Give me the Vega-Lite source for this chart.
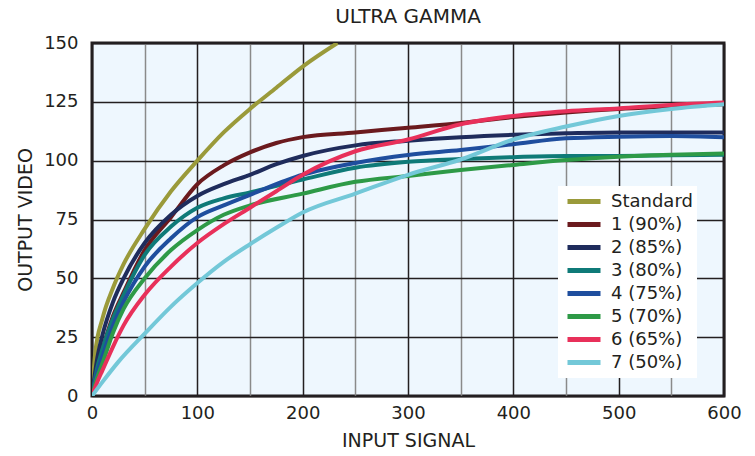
{
  "$schema": "https://vega.github.io/schema/vega-lite/v6.json",
  "width": 632,
  "height": 353,
  "autosize": {"type": "none"},
  "padding": {"left": 92, "top": 43, "right": 31, "bottom": 60},
  "background": "white",
  "title": {"text": "ULTRA GAMMA", "fontSize": 20, "fontWeight": "normal", "font": "DejaVu Sans", "color": "#231f20", "offset": 7},
  "config": {
    "font": "DejaVu Sans",
    "view": {"fill": "#eef7fe", "stroke": "#231f20", "strokeWidth": 3},
    "axis": {"labelFont": "DejaVu Sans", "titleFont": "DejaVu Sans", "labelFontSize": 18, "titleFontSize": 19, "titleFontWeight": "normal", "labelColor": "#231f20", "titleColor": "#231f20", "domain": false, "ticks": false, "labelFlush": false}
  },
  "data": {"values": [
    {"s":"Standard","x":0,"y":0},{"s":"Standard","x":3,"y":18},{"s":"Standard","x":10,"y":33},{"s":"Standard","x":20,"y":46},{"s":"Standard","x":30,"y":56},{"s":"Standard","x":50,"y":71},{"s":"Standard","x":75,"y":87},{"s":"Standard","x":100,"y":100},{"s":"Standard","x":125,"y":112},{"s":"Standard","x":150,"y":122},{"s":"Standard","x":175,"y":131},{"s":"Standard","x":200,"y":140},{"s":"Standard","x":233,"y":150},
    {"s":"1 (90%)","x":0,"y":0},{"s":"1 (90%)","x":5,"y":12},{"s":"1 (90%)","x":10,"y":20},{"s":"1 (90%)","x":20,"y":34},{"s":"1 (90%)","x":30,"y":44},{"s":"1 (90%)","x":50,"y":62},{"s":"1 (90%)","x":75,"y":76},{"s":"1 (90%)","x":100,"y":90},{"s":"1 (90%)","x":125,"y":98},{"s":"1 (90%)","x":150,"y":103.5},{"s":"1 (90%)","x":175,"y":107.5},{"s":"1 (90%)","x":200,"y":110},{"s":"1 (90%)","x":250,"y":112},{"s":"1 (90%)","x":300,"y":114},{"s":"1 (90%)","x":350,"y":116},{"s":"1 (90%)","x":400,"y":118.5},{"s":"1 (90%)","x":450,"y":120.5},{"s":"1 (90%)","x":500,"y":122},{"s":"1 (90%)","x":550,"y":123},{"s":"1 (90%)","x":600,"y":124},
    {"s":"2 (85%)","x":0,"y":0},{"s":"2 (85%)","x":5,"y":16},{"s":"2 (85%)","x":10,"y":26},{"s":"2 (85%)","x":20,"y":40},{"s":"2 (85%)","x":30,"y":50},{"s":"2 (85%)","x":50,"y":65},{"s":"2 (85%)","x":75,"y":77},{"s":"2 (85%)","x":100,"y":85},{"s":"2 (85%)","x":125,"y":90},{"s":"2 (85%)","x":150,"y":94},{"s":"2 (85%)","x":175,"y":98.5},{"s":"2 (85%)","x":200,"y":102},{"s":"2 (85%)","x":250,"y":106.5},{"s":"2 (85%)","x":300,"y":108.5},{"s":"2 (85%)","x":350,"y":110},{"s":"2 (85%)","x":400,"y":111},{"s":"2 (85%)","x":450,"y":111.6},{"s":"2 (85%)","x":500,"y":112},{"s":"2 (85%)","x":550,"y":112},{"s":"2 (85%)","x":600,"y":112},
    {"s":"3 (80%)","x":0,"y":0},{"s":"3 (80%)","x":5,"y":12},{"s":"3 (80%)","x":10,"y":20},{"s":"3 (80%)","x":20,"y":33},{"s":"3 (80%)","x":30,"y":43},{"s":"3 (80%)","x":50,"y":60},{"s":"3 (80%)","x":75,"y":72},{"s":"3 (80%)","x":100,"y":80},{"s":"3 (80%)","x":125,"y":84},{"s":"3 (80%)","x":150,"y":86.5},{"s":"3 (80%)","x":200,"y":92},{"s":"3 (80%)","x":250,"y":97},{"s":"3 (80%)","x":300,"y":99.5},{"s":"3 (80%)","x":350,"y":100.7},{"s":"3 (80%)","x":400,"y":101.5},{"s":"3 (80%)","x":450,"y":102},{"s":"3 (80%)","x":500,"y":102},{"s":"3 (80%)","x":550,"y":102.3},{"s":"3 (80%)","x":600,"y":102.5},
    {"s":"4 (75%)","x":0,"y":0},{"s":"4 (75%)","x":5,"y":10},{"s":"4 (75%)","x":10,"y":17},{"s":"4 (75%)","x":20,"y":30},{"s":"4 (75%)","x":30,"y":40},{"s":"4 (75%)","x":50,"y":55},{"s":"4 (75%)","x":75,"y":67},{"s":"4 (75%)","x":100,"y":76},{"s":"4 (75%)","x":125,"y":81},{"s":"4 (75%)","x":150,"y":85.5},{"s":"4 (75%)","x":200,"y":94},{"s":"4 (75%)","x":250,"y":99},{"s":"4 (75%)","x":300,"y":102.4},{"s":"4 (75%)","x":350,"y":104.5},{"s":"4 (75%)","x":400,"y":107},{"s":"4 (75%)","x":450,"y":109.5},{"s":"4 (75%)","x":500,"y":110.2},{"s":"4 (75%)","x":550,"y":110.5},{"s":"4 (75%)","x":600,"y":110},
    {"s":"5 (70%)","x":0,"y":0},{"s":"5 (70%)","x":5,"y":8},{"s":"5 (70%)","x":10,"y":14},{"s":"5 (70%)","x":20,"y":27},{"s":"5 (70%)","x":30,"y":37},{"s":"5 (70%)","x":50,"y":50},{"s":"5 (70%)","x":75,"y":62},{"s":"5 (70%)","x":100,"y":70.5},{"s":"5 (70%)","x":125,"y":77},{"s":"5 (70%)","x":150,"y":81},{"s":"5 (70%)","x":200,"y":86},{"s":"5 (70%)","x":250,"y":91},{"s":"5 (70%)","x":300,"y":93.5},{"s":"5 (70%)","x":350,"y":96},{"s":"5 (70%)","x":400,"y":98.2},{"s":"5 (70%)","x":450,"y":100.3},{"s":"5 (70%)","x":500,"y":101.7},{"s":"5 (70%)","x":550,"y":102.5},{"s":"5 (70%)","x":600,"y":103},
    {"s":"6 (65%)","x":0,"y":0},{"s":"6 (65%)","x":5,"y":6},{"s":"6 (65%)","x":10,"y":11},{"s":"6 (65%)","x":20,"y":21},{"s":"6 (65%)","x":30,"y":30},{"s":"6 (65%)","x":50,"y":43},{"s":"6 (65%)","x":75,"y":55},{"s":"6 (65%)","x":100,"y":65},{"s":"6 (65%)","x":125,"y":73},{"s":"6 (65%)","x":150,"y":80},{"s":"6 (65%)","x":175,"y":87},{"s":"6 (65%)","x":200,"y":94},{"s":"6 (65%)","x":250,"y":104},{"s":"6 (65%)","x":300,"y":109},{"s":"6 (65%)","x":350,"y":115.5},{"s":"6 (65%)","x":400,"y":119},{"s":"6 (65%)","x":450,"y":121},{"s":"6 (65%)","x":500,"y":122.2},{"s":"6 (65%)","x":550,"y":123.7},{"s":"6 (65%)","x":600,"y":124.7},
    {"s":"7 (50%)","x":0,"y":0},{"s":"7 (50%)","x":10,"y":6},{"s":"7 (50%)","x":25,"y":14.5},{"s":"7 (50%)","x":50,"y":26.5},{"s":"7 (50%)","x":75,"y":38},{"s":"7 (50%)","x":100,"y":48},{"s":"7 (50%)","x":125,"y":57},{"s":"7 (50%)","x":150,"y":64.5},{"s":"7 (50%)","x":175,"y":71.5},{"s":"7 (50%)","x":200,"y":78},{"s":"7 (50%)","x":250,"y":86},{"s":"7 (50%)","x":300,"y":94},{"s":"7 (50%)","x":350,"y":100.5},{"s":"7 (50%)","x":400,"y":109},{"s":"7 (50%)","x":450,"y":114.5},{"s":"7 (50%)","x":500,"y":119},{"s":"7 (50%)","x":550,"y":122},{"s":"7 (50%)","x":600,"y":124}
  ]},
  "mark": {"type": "line", "strokeWidth": 4, "interpolate": "monotone", "clip": true},
  "encoding": {
    "x": {"field": "x", "type": "quantitative", "scale": {"domain": [0, 600], "nice": false},
      "axis": {"title": "INPUT SIGNAL", "values": [0,50,100,150,200,250,300,350,400,450,500,550,600], "labelExpr": "datum.value % 100 === 0 ? datum.label : ''", "labelPadding": 8, "titlePadding": 9, "grid": true, "gridWidth": 1.5, "gridColor": {"condition": {"test": "datum.value % 100 === 0", "value": "#231f20"}, "value": "#8a8a8a"}, "gridOpacity": 1}},
    "y": {"field": "y", "type": "quantitative", "scale": {"domain": [0, 150], "nice": false},
      "axis": {"title": "OUTPUT VIDEO", "values": [0,25,50,75,100,125,150], "labelPadding": 14, "titlePadding": 8, "grid": true, "gridWidth": 1.3, "gridColor": "#231f20", "gridOpacity": 1}},
    "color": {"field": "s", "type": "nominal", "sort": null,
      "scale": {"domain": ["Standard","1 (90%)","2 (85%)","3 (80%)","4 (75%)","5 (70%)","6 (65%)","7 (50%)"],
                "range": ["#9a9a3a","#6b1a1e","#1f2c5c","#0f7a78","#1f4e9e","#2e9a47","#e8305a","#73c8d8"]},
      "legend": {"title": null, "orient": "none", "legendX": 466, "legendY": 143, "fillColor": "white", "padding": 4, "clipHeight": 23, "symbolType": "stroke", "symbolSize": 1089, "symbolStrokeWidth": 5, "symbolOffset": 3, "labelFontSize": 18, "labelFont": "DejaVu Sans", "labelColor": "#231f20", "labelOffset": 8, "rowPadding": 0, "labelLimit": 200}}
  }
}
